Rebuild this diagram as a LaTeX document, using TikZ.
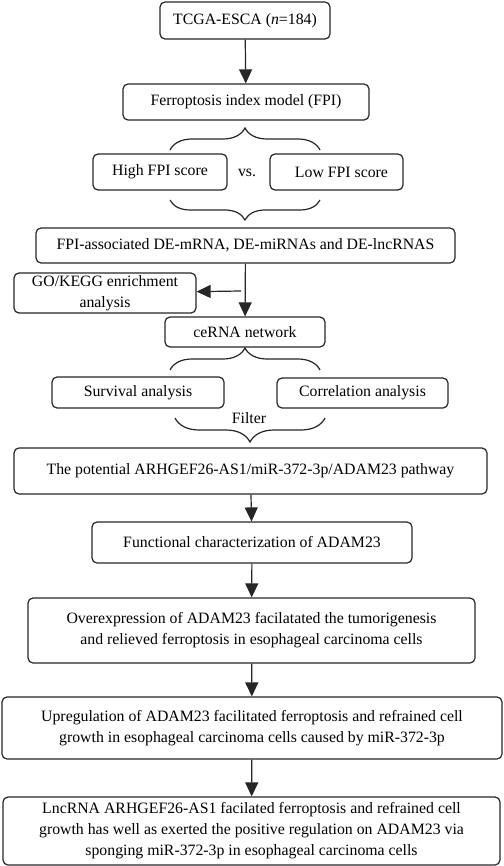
\documentclass[tikz,border=0pt]{standalone}
\usepackage{fontspec}
\setmainfont{Liberation Serif}
\usetikzlibrary{arrows.meta,decorations.pathreplacing}

\begin{document}
\begin{tikzpicture}[
    x=1pt,
    y=-1pt,
    every path/.style={>={Triangle[length=14pt,width=13pt]}},
    line width=1.2pt,
    draw=black!85,
    font=\fontsize{15.8}{21}\selectfont,
    box/.style={draw=black!85, rounded corners=5pt, inner sep=0pt, align=center},
    brc/.style={draw=black!85, decorate, decoration={brace, amplitude=#1}}
    ]
    \useasboundingbox (0,0) rectangle (503,866);
    
    % nodes
    \node[box, minimum width=170, minimum height=37] (tcga) at (245,20.5) {TCGA-ESCA (\textit{n}=184)};
    \node[box, minimum width=246, minimum height=36] (fpi) at (246,102) {Ferroptosis index model (FPI)};
    
    \node[box, minimum width=134, minimum height=36] (high) at (160,172) {High FPI score};
    \node[] (vs) at (247,173) {vs.};
    \node[box, minimum width=133, minimum height=36] (low) at (336.5,172) {\hspace{10pt}Low FPI score};
    
    \node[box, minimum width=419, minimum height=35] (assoc) at (245.5,245.5) {FPI-associated DE-mRNA, DE-miRNAs and DE-lncRNAS};
    \node[box, minimum width=182, minimum height=40] (go) at (105,293) {GO/KEGG enrichment\\analysis};
    \node[box, minimum width=160, minimum height=30] (cerna) at (245,332) {ceRNA network};
    
    \node[box, minimum width=172, minimum height=31] (surv) at (138,392.5) {Survival analysis};
    \node[box, minimum width=171, minimum height=30] (corr) at (362.5,393) {Correlation analysis};
    \node[] (filter) at (249,418) {Filter};
    
    \node[box, minimum width=473, minimum height=46] (path) at (250.5,471) {The potential ARHGEF26-AS1/miR-372-3p/ADAM23 pathway};
    \node[box, minimum width=320, minimum height=41] (func) at (252,542.5) {Functional characterization of ADAM23};
    \node[box, minimum width=447, minimum height=65] (over) at (251.5,630.5) {Overexpression of ADAM23 facilatated the tumorigenesis\\and relieved ferroptosis in esophageal carcinoma cells};
    \node[box, minimum width=500, minimum height=62] (upreg) at (252,728) {Upregulation of ADAM23 facilitated ferroptosis and refrained cell\\growth in esophageal carcinoma cells caused by miR-372-3p};
    \node[box, minimum width=497, minimum height=68] (lnc) at (251.5,831) {LncRNA ARHGEF26-AS1 facilated ferroptosis and refrained cell\\growth has well as exerted the positive regulation on ADAM23 via\\sponging miR-372-3p in esophageal carcinoma cells};
    
    % brace ends
    \coordinate (b1l) at (170,150);
    \coordinate (b1r) at (320,150);
    \coordinate (b2l) at (170,200);
    \coordinate (b2r) at (320,200);
    \coordinate (b3l) at (170,370);
    \coordinate (b3r) at (320,370);
    \coordinate (b4l) at (175,418);
    \coordinate (b4r) at (325,418);
    \coordinate (split) at (241,291);
    
    % edges
    \draw[->] (tcga) -- (fpi);
    \draw[->] (assoc) -- (cerna);
    \draw[->] (split) -- (go);
    \draw[->] (path) -- (func);
    \draw[->] (func) -- (over);
    \draw[->] (over) -- (upreg);
    \draw[->] (upreg) -- (lnc);
    
    % braces
    \draw[brc=22pt] (b1l) -- (b1r);
    \draw[brc=20pt] (b2r) -- (b2l);
    \draw[brc=22pt] (b3l) -- (b3r);
    \draw[brc=24pt] (b4r) -- (b4l);
    
\end{tikzpicture}
\end{document}
